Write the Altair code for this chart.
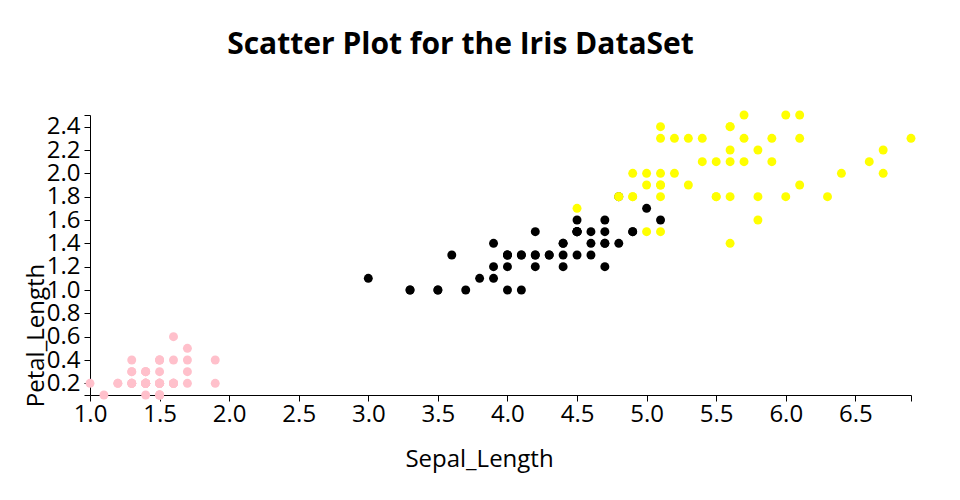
import altair as alt
import pandas as pd

setosa_x = [1.4,1.4,1.3,1.5,1.4,1.7,1.4,1.5,1.4,1.5,1.5,1.6,1.4,1.1,1.2,1.5,1.3,1.4,1.7,1.5,1.7,1.5,1.0,1.7,1.9,1.6,1.6,1.5,1.4,1.6,1.6,1.5,1.5,1.4,1.5,1.2,1.3,1.5,1.3,1.5,1.3,1.3,1.3,1.6,1.9,1.4,1.6,1.4,1.5,1.4]
setosa_y = [0.2,0.2,0.2,0.2,0.2,0.4,0.3,0.2,0.2,0.1,0.2,0.2,0.1,0.1,0.2,0.4,0.4,0.3,0.3,0.3,0.2,0.4,0.2,0.5,0.2,0.2,0.4,0.2,0.2,0.2,0.2,0.4,0.1,0.2,0.1,0.2,0.2,0.1,0.2,0.2,0.3,0.3,0.2,0.6,0.4,0.3,0.2,0.2,0.2,0.2]
versicolor_x = [4.7,4.5,4.9,4.0,4.6,4.5,4.7,3.3,4.6,3.9,3.5,4.2,4.0,4.7,3.6,4.4,4.5,4.1,4.5,3.9,4.8,4.0,4.9,4.7,4.3,4.4,4.8,5.0,4.5,3.5,3.8,3.7,3.9,5.1,4.5,4.5,4.7,4.4,4.1,4.0,4.4,4.6,4.0,3.3,4.2,4.2,4.2,4.3,3.0,4.1]
versicolor_y = [1.4,1.5,1.5,1.3,1.5,1.3,1.6,1.0,1.3,1.4,1.0,1.5,1.0,1.4,1.3,1.4,1.5,1.0,1.5,1.1,1.8,1.3,1.5,1.2,1.3,1.4,1.4,1.7,1.5,1.0,1.1,1.0,1.2,1.6,1.5,1.6,1.5,1.3,1.3,1.3,1.2,1.4,1.2,1.0,1.3,1.2,1.3,1.3,1.1,1.3]
virginica_x = [6.0,5.1,5.9,5.6,5.8,6.6,4.5,6.3,5.8,6.1,5.1,5.3,5.5,5.0,5.1,5.3,5.5,6.7,6.9,5.0,5.7,4.9,6.7,4.9,5.7,6.0,4.8,4.9,5.6,5.8,6.1,6.4,5.6,5.1,5.6,6.1,5.6,5.5,4.8,5.4,5.6,5.1,5.1,5.9,5.7,5.2,5.0,5.2,5.4,5.1]
virginica_y = [2.5,1.9,2.1,1.8,2.2,2.1,1.7,1.8,1.8,2.5,2.0,1.9,2.1,2.0,2.4,2.3,1.8,2.2,2.3,1.5,2.3,2.0,2.0,1.8,2.1,1.8,1.8,1.8,2.1,1.6,1.9,2.0,2.2,1.5,1.4,2.3,2.4,1.8,1.8,2.1,2.4,2.3,1.9,2.3,2.5,2.3,1.9,2.0,2.3,1.8]

species = ["setosa", "versicolor", "virginica"]
colors = ["pink", "black", "yellow"]

x_ticks = [1.0, 1.5, 2.0, 2.5, 3.0, 3.5, 4.0, 4.5, 5.0, 5.5, 6.0, 6.5, 6.9]
y_ticks = [0.1, 0.2, 0.4, 0.6, 0.8, 1.0, 1.2, 1.4, 1.6, 1.8, 2.0, 2.2, 2.4, 2.5]

rows = []
for name, xs, ys in [("setosa", setosa_x, setosa_y),
                     ("versicolor", versicolor_x, versicolor_y),
                     ("virginica", virginica_x, virginica_y)]:
    for a, b in zip(xs, ys):
        rows.append({"Sepal_Length": a, "Petal_Length": b, "Species": name})
df = pd.DataFrame(rows)
df["order"] = range(len(df))

FONT = "Open Sans"

chart = alt.Chart(df).mark_circle(size=80, opacity=1).encode(
    x=alt.X("Sepal_Length:Q",
            scale=alt.Scale(domain=[1.0, 6.9], nice=False, zero=False),
            axis=alt.Axis(title="Sepal_Length", grid=False, format=".1f",
                          values=x_ticks,
                          labelExpr="datum.value > 6.8 ? '' : datum.label",
                          labelFontSize=24, titleFontSize=24, titleFontWeight="normal",
                          labelColor="black", titleColor="black", domainColor="black",
                          tickColor="black", tickSize=6, labelPadding=1,
                          labelFlush=False, labelOverlap=False,
                          titleX=389, titleY=71, titleBaseline="alphabetic")),
    y=alt.Y("Petal_Length:Q",
            scale=alt.Scale(domain=[0.1, 2.5], nice=False, zero=False),
            axis=alt.Axis(title="Petal_Length", grid=False, format=".1f",
                          values=y_ticks,
                          labelExpr="(datum.value < 0.15 || datum.value > 2.45) ? '' : datum.label",
                          labelFontSize=24, titleFontSize=24, titleFontWeight="normal",
                          labelColor="black", titleColor="black", domainColor="black",
                          tickColor="black", tickSize=6, labelPadding=4,
                          labelFlush=False, labelOverlap=False,
                          titleX=-47, titleY=220, titleBaseline="alphabetic",
                          titleAngle=270, titleAlign="center")),
    color=alt.Color("Species:N", scale=alt.Scale(domain=species, range=colors), legend=None),
    order=alt.Order("order:Q"),
).properties(
    width=821,
    height=280,
    title=alt.TitleParams("Scatter Plot for the Iris DataSet", fontSize=30, fontWeight="bold",
                          font=FONT, color="black", anchor="middle", frame="group",
                          dx=-40, offset=19, baseline="alphabetic"),
    autosize=alt.AutoSizeParams(type="none"),
    padding={"left": 82, "top": 107, "right": 41, "bottom": 97},
).configure(font=FONT).configure_view(stroke=None).configure_axis(labelFont=FONT, titleFont=FONT)

chart.save("out.html", embed_options={"renderer": "svg", "actions": False})
